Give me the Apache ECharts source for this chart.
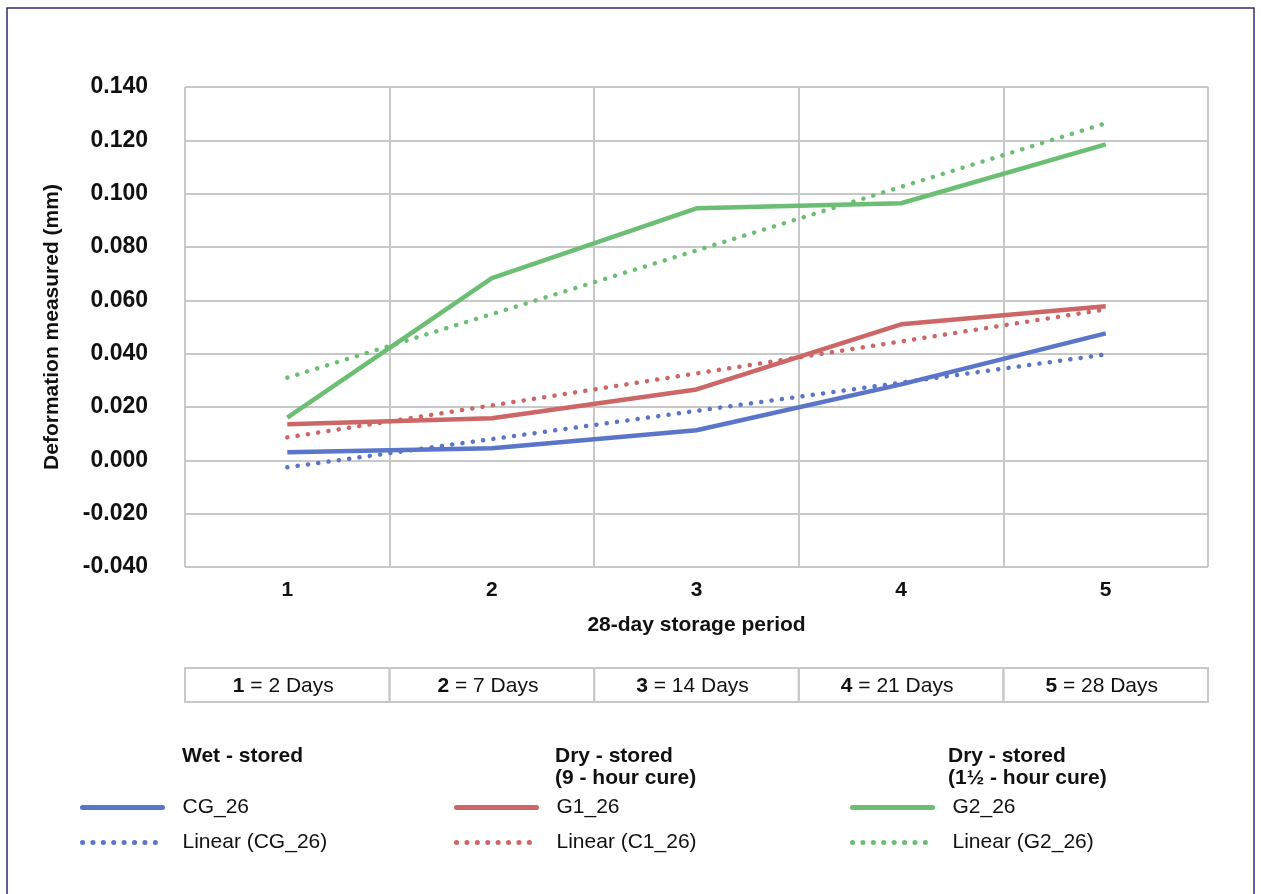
<!DOCTYPE html>
<html><head><meta charset="utf-8">
<script src="https://cdn.jsdelivr.net/npm/echarts@6/dist/echarts.min.js"></script>
<style>html,body{margin:0;padding:0;background:#fff}#c{width:1261px;height:894px}</style>
</head><body><div id="c"></div>
<script>
const categories = ['1', '2', '3', '4', '5'];
const cg26 = [0.0030, 0.0045, 0.0113, 0.0285, 0.0476];
const g1_26 = [0.0135, 0.0158, 0.0266, 0.0510, 0.0578];
const g2_26 = [0.0160, 0.0683, 0.0945, 0.0964, 0.1185];
// trend lines: read endpoints only, drawn straight between them
const linCG = [-0.0026, null, null, null, 0.0397];
const linC1 = [0.0086, null, null, null, 0.0566];
const linG2 = [0.0310, null, null, null, 0.1264];
const tableNums = ['1', '2', '3', '4', '5'];
const tableDays = ['2 Days', '7 Days', '14 Days', '21 Days', '28 Days'];
const groupHeads = ['Wet - stored', 'Dry - stored\n(9 - hour cure)', 'Dry - stored\n(1½ - hour cure)'];

const BLUE = '#5b76c9', RED = '#cd6666', GREEN = '#6cbe74';
const FONT = '"Liberation Sans", Arial, Helvetica, sans-serif';
const GL = 185, GR = 1208, GT = 87, GB = 567;

function solid(name, data, color) {
  return { name, type: 'line', data, symbol: 'none', smooth: false,
    lineStyle: { color, width: 4.5 }, itemStyle: { color }, z: 3 };
}
function dotted(name, data, color) {
  return { name, type: 'line', data, symbol: 'none', connectNulls: true,
    lineStyle: { color, width: 4.5, type: [0.1, 10.3], cap: 'round' }, itemStyle: { color }, z: 2 };
}

const chart = echarts.init(document.getElementById('c'), null, { renderer: 'canvas' });

const cellW = (GR - GL) / tableNums.length;
const graphics = [
  { type: 'rect', shape: { x: 7, y: 8, width: 1247, height: 900 }, style: { fill: 'none', stroke: '#2e2e6e', lineWidth: 1.5 }, z: 0 }
];
tableNums.forEach((n, i) => {
  graphics.push({ type: 'rect', shape: { x: GL + i * cellW, y: 668, width: cellW, height: 34 },
    style: { fill: 'none', stroke: '#c8c8c8', lineWidth: 2 } });
  graphics.push({ type: 'text', x: GL + i * cellW + cellW / 2 - 4, y: 686,
    style: { text: '{b|' + n + '} = ' + tableDays[i], align: 'center', verticalAlign: 'middle',
      font: '21px ' + FONT, fill: '#111',
      rich: { b: { fontWeight: 'bold', fontSize: 21, fontFamily: FONT, fill: '#111' } } } });
});
const headX = [182, 555, 948];
groupHeads.forEach((t, i) => {
  graphics.push({ type: 'text', x: headX[i], y: 745,
    style: { text: t, font: 'bold 21px ' + FONT, fill: '#111', lineHeight: 22, verticalAlign: 'top' } });
});

function legendAt(left, names) {
  return { data: names, orient: 'vertical', left: left, top: 797, padding: 0,
    itemWidth: 80, itemHeight: 20, itemGap: 14,
    itemStyle: { opacity: 0, color: 'rgba(0,0,0,0)', borderWidth: 0 },
    lineStyle: { width: 5, cap: 'round' },
    textStyle: { fontSize: 21, fontFamily: FONT, color: '#111', padding: [0, 0, 0, 15] } };
}

chart.setOption({
  animation: false,
  backgroundColor: '#fff',
  textStyle: { fontFamily: FONT },
  grid: { left: GL, right: 1261 - GR, top: GT, bottom: 894 - GB, containLabel: false },
  xAxis: {
    type: 'category', data: categories, boundaryGap: true,
    name: '28-day storage period', nameLocation: 'middle', nameGap: 48,
    nameTextStyle: { fontWeight: 'bold', fontSize: 21, color: '#111', fontFamily: FONT },
    axisLine: { show: false }, axisTick: { show: false },
    axisLabel: { fontWeight: 'bold', fontSize: 21, color: '#111', margin: 13 },
    splitLine: { show: true, interval: 0, lineStyle: { color: '#c8c8c8', width: 2 } }
  },
  yAxis: {
    type: 'value', min: -0.04, max: 0.14, interval: 0.02,
    name: 'Deformation measured (mm)', nameLocation: 'middle', nameGap: 122, nameRotate: 90,
    nameTextStyle: { fontWeight: 'bold', fontSize: 21, color: '#111', fontFamily: FONT },
    axisLine: { show: false }, axisTick: { show: false },
    axisLabel: { fontWeight: 'bold', fontSize: 23, color: '#111', margin: 37,
      formatter: v => (Math.abs(v) < 1e-9 ? 0 : v).toFixed(3) },
    splitLine: { show: true, lineStyle: { color: '#c8c8c8', width: 2 } }
  },
  legend: [
    legendAt(80, ['CG_26', 'Linear (CG_26)']),
    legendAt(454, ['G1_26', 'Linear (C1_26)']),
    legendAt(850, ['G2_26', 'Linear (G2_26)'])
  ],
  graphic: graphics,
  series: [
    dotted('Linear (CG_26)', linCG, BLUE),
    dotted('Linear (C1_26)', linC1, RED),
    dotted('Linear (G2_26)', linG2, GREEN),
    solid('CG_26', cg26, BLUE),
    solid('G1_26', g1_26, RED),
    solid('G2_26', g2_26, GREEN)
  ]
});
</script></body></html>
